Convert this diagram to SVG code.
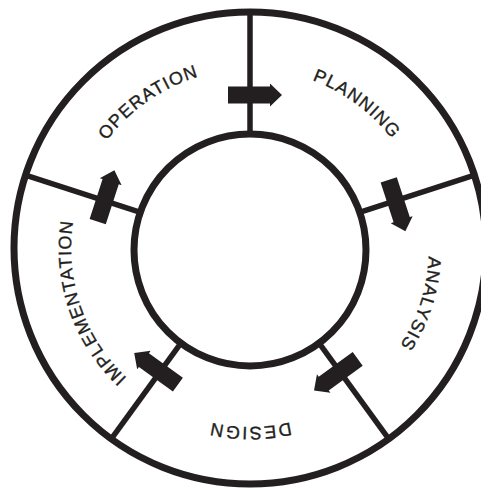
<svg xmlns="http://www.w3.org/2000/svg" xmlns:xlink="http://www.w3.org/1999/xlink" width="481" height="489" viewBox="0 0 481 489">
<style>
.ring{fill:none;stroke:#231f20;stroke-width:7}
.spoke{stroke:#231f20;stroke-width:5.5;fill:none}
.arrow{fill:#231f20}
.lbl{font-family:"Liberation Sans",Arial,sans-serif;font-size:18px;fill:#231f20;stroke:#231f20;stroke-width:0.35;letter-spacing:1.1px}
</style>
<defs>
<path id="tp" d="M250,69 A179,179 0 0 1 250,427 A179,179 0 0 1 250,69"/>
<path id="arr" d="M-22,-8.5 H20 V-11.5 L32,0 L20,11.5 V8.5 H-22 Z"/>
</defs>
<rect width="481" height="489" fill="#ffffff"/>
<g id="outer-ring"><circle class="ring" cx="250" cy="248" r="236"/></g>
<g id="inner-circle"><circle class="ring" cx="250" cy="250" r="116"/></g>
<g id="connectors">
<line class="spoke" x1="250" y1="134" x2="250" y2="12"/>
<line class="spoke" x1="360.3" y1="212.2" x2="474.5" y2="175.1"/>
<line class="spoke" x1="318.2" y1="341.8" x2="388.7" y2="438.9"/>
<line class="spoke" x1="181.8" y1="341.8" x2="111.3" y2="438.9"/>
<line class="spoke" x1="139.7" y1="212.2" x2="25.5" y2="175.1"/>
<use href="#arr" class="arrow" transform="translate(250,95) rotate(0)"/>
<use href="#arr" class="arrow" transform="translate(395.5,200.7) rotate(72)"/>
<use href="#arr" class="arrow" transform="translate(339.9,371.8) rotate(144)"/>
<use href="#arr" class="arrow" transform="translate(160.1,371.8) rotate(216)"/>
<use href="#arr" class="arrow" transform="translate(104.5,200.7) rotate(288)"/>
</g>
<g id="planning"><text class="lbl" text-anchor="middle"><textPath href="#tp" startOffset="114">PLANNING</textPath></text></g>
<g id="analysis"><text class="lbl" text-anchor="middle"><textPath href="#tp" startOffset="337">ANALYSIS</textPath></text></g>
<g id="design"><text class="lbl" text-anchor="middle" style="letter-spacing:2px"><textPath href="#tp" startOffset="562">DESIGN</textPath></text></g>
<g id="implementation"><text class="lbl" text-anchor="middle"><textPath href="#tp" startOffset="784">IMPLEMENTATION</textPath></text></g>
<g id="operation"><text class="lbl" text-anchor="middle"><textPath href="#tp" startOffset="1015">OPERATION</textPath></text></g>
</svg>
